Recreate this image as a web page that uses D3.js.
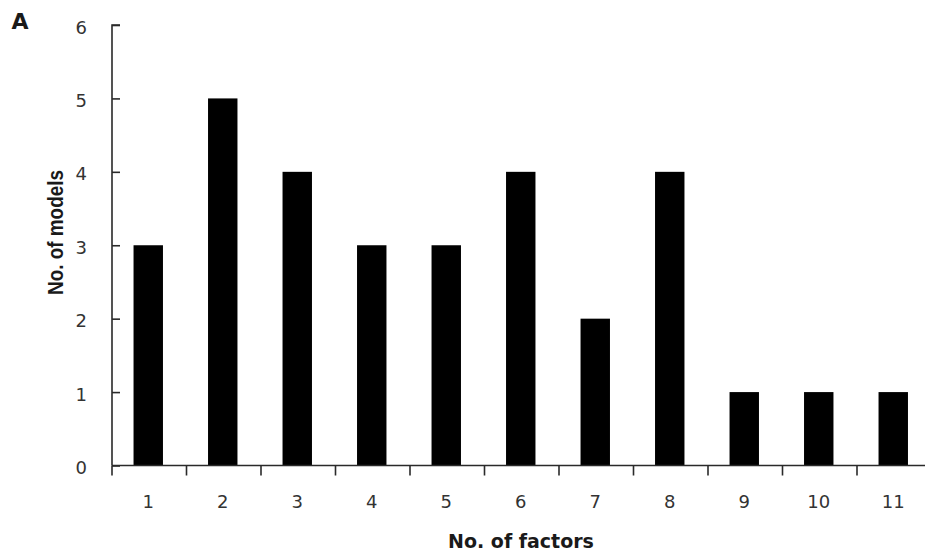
<!DOCTYPE html>
<html>
<head>
<meta charset="utf-8">
<script src="https://cdn.jsdelivr.net/npm/d3@7"></script>
<style>
  html, body { margin: 0; padding: 0; background: #fff; }
  svg { display: block; }
  text { font-family: "DejaVu Sans", Verdana, sans-serif; }
</style>
</head>
<body>
<svg id="chart" width="925" height="551"></svg>
<script>
// Number of factors per model and how many models used each count
const factors = ["1", "2", "3", "4", "5", "6", "7", "8", "9", "10", "11"];
const models = [3, 5, 4, 3, 3, 4, 2, 4, 1, 1, 1];
const yTicks = [0, 1, 2, 3, 4, 5, 6];

const svg = d3.select("#chart");
const W = 925, H = 551;
const plot = { left: 111, step: 74.5, top: 25, bottom: 465.5 };

const x = d3.scaleBand()
  .domain(factors)
  .range([plot.left, plot.left + plot.step * factors.length])
  .paddingInner(0.605)
  .paddingOuter(0.3025);

const y = d3.scaleLinear()
  .domain([0, 6])
  .range([plot.bottom, plot.top]);

const axisColor = "#2a2a2a";
const textColor = "#333";

// Bars
svg.append("g")
  .selectAll("rect")
  .data(models)
  .join("rect")
  .attr("x", (d, i) => x(factors[i]))
  .attr("y", d => y(d))
  .attr("width", x.bandwidth())
  .attr("height", d => y(0) - y(d))
  .attr("fill", "#000");

// Y axis: ticks point inward, labels on the left
const yAxis = svg.append("g")
  .attr("transform", `translate(${plot.left + 1},0)`)
  .call(d3.axisRight(y).tickValues(yTicks).tickSize(8).tickFormat(d3.format("d")));
yAxis.select(".domain").attr("d", `M8,${y(6)}H0V${y(0)}`)
  .attr("stroke", axisColor).attr("stroke-width", 1.6);
yAxis.selectAll(".tick line").attr("stroke", axisColor).attr("stroke-width", 1.6);
yAxis.selectAll(".tick text")
  .attr("x", -25)
  .attr("dy", "0.45em")
  .attr("text-anchor", "end")
  .attr("fill", textColor)
  .style("font-size", "18px");

// X axis: tick marks sit on category boundaries, labels at category centres
const step = x.step();
const xStart = plot.left + 1, xEnd = plot.left + step * factors.length;
const xAxisG = svg.append("g").attr("transform", `translate(0,${y(0)})`);
xAxisG.append("line")
  .attr("x1", xStart).attr("x2", xEnd)
  .attr("stroke", axisColor).attr("stroke-width", 1.6);
xAxisG.selectAll("line.tk")
  .data(d3.range(0, factors.length + 1))
  .join("line")
  .attr("class", "tk")
  .attr("x1", i => xStart + i * step).attr("x2", i => xStart + i * step)
  .attr("y1", 0).attr("y2", 10)
  .attr("stroke", axisColor).attr("stroke-width", 1.6);
xAxisG.selectAll("text")
  .data(factors)
  .join("text")
  .attr("x", d => x(d) + x.bandwidth() / 2)
  .attr("y", 42.5)
  .attr("text-anchor", "middle")
  .attr("fill", textColor)
  .style("font-size", "18px")
  .text(d => d);

// Axis titles
svg.append("text")
  .attr("x", 521).attr("y", 548)
  .attr("text-anchor", "middle")
  .attr("fill", "#1a1a1a")
  .style("font-size", "19px").style("font-weight", "bold")
  .text("No. of factors");

svg.append("text")
  .attr("transform", "translate(63,232.5) rotate(-90)")
  .attr("text-anchor", "middle")
  .attr("fill", "#1a1a1a")
  .attr("textLength", 125)
  .attr("lengthAdjust", "spacingAndGlyphs")
  .style("font-family", "'Liberation Sans', Arial, sans-serif")
  .style("font-size", "22px").style("font-weight", "bold")
  .text("No. of models");

// Panel label
svg.append("text")
  .attr("x", 11.5).attr("y", 29)
  .attr("fill", "#1a1a1a")
  .style("font-size", "22px").style("font-weight", "bold")
  .text("A");
</script>
</body>
</html>
